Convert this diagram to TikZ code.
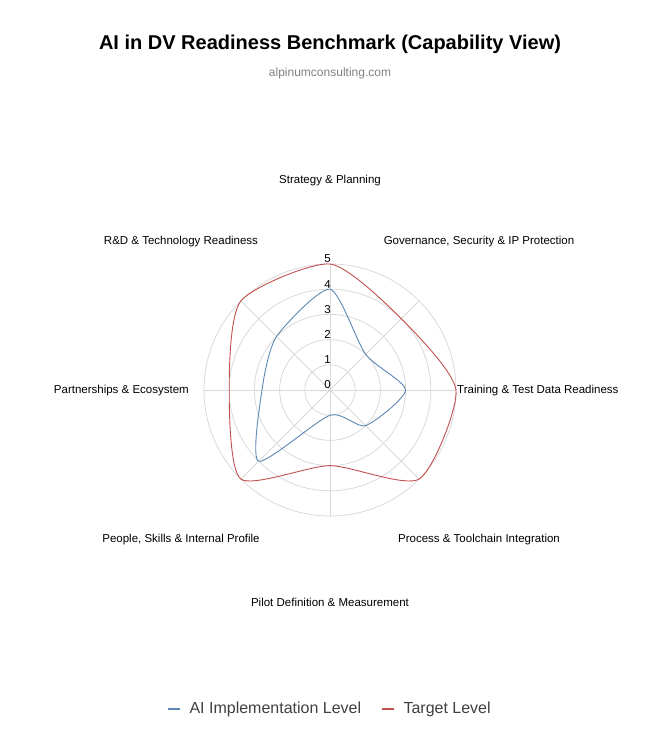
\documentclass[tikz,border=0pt]{standalone}
\usepackage{fontspec}
\setmainfont{Liberation Sans}
\definecolor{ablue}{HTML}{5B87B5}
\definecolor{ared}{HTML}{C0504D}
\definecolor{grid}{HTML}{D9D9D9}
\begin{document}
\begin{tikzpicture}[x=1pt,y=-1pt,
  lab/.style={font=\fontsize{11.5}{13}\selectfont,inner sep=1pt},
  tick/.style={font=\fontsize{11.5}{13}\selectfont,inner sep=1pt,anchor=south east}]
\useasboundingbox (0,0) rectangle (659,752);
\def\u{25.2}
\coordinate (c) at (330,390);
% grid
\foreach \k in {1,...,5}{\draw[grid,line width=0.8pt] (c) circle[radius=\k*\u];}
\foreach \a in {0,45,...,315}{\draw[grid,line width=0.8pt] (c) -- ++(\a:5*\u);}
\foreach \k in {0,...,5}{\node[tick] (t\k) at (332,{390-\k*\u}) {\k};}
% series
\draw[ablue,line width=0.9pt] plot[smooth cycle,tension=0.4] coordinates{
 (330,{390-4*\u}) ({330+2*\u*0.7071},{390-2*\u*0.7071}) ({330+3*\u},390)
 ({330+2*\u*0.7071},{390+2*\u*0.7071}) (330,{390+1*\u})
 ({330-4*\u*0.7071},{390+4*\u*0.7071}) ({330-2.7*\u},390) ({330-3*\u*0.7071},{390-3*\u*0.7071})};
\draw[ared,line width=0.9pt] plot[smooth cycle,tension=0.4] coordinates{
 (330,{390-5*\u}) ({330+4*\u*0.7071},{390-4*\u*0.7071}) ({330+5*\u},390)
 ({330+5*\u*0.7071},{390+5*\u*0.7071}) (330,{390+3*\u})
 ({330-5*\u*0.7071},{390+5*\u*0.7071}) ({330-4*\u},390) ({330-5*\u*0.7071},{390-5*\u*0.7071})};
% labels
\node[lab] (l1) at (330,181) {Strategy \& Planning};
\node[lab] (l2) at (479,242) {Governance, Security \& IP Protection};
\node[lab,anchor=west] (l3) at (456,391) {Training \& Test Data Readiness};
\node[lab] (l4) at (479,540) {Process \& Toolchain Integration};
\node[lab] (l5) at (330,602) {Pilot Definition \& Measurement};
\node[lab] (l6) at (181,540) {People, Skills \& Internal Profile};
\node[lab,anchor=east] (l7) at (190,391) {Partnerships \& Ecosystem};
\node[lab] (l8) at (181,242) {R\&D \& Technology Readiness};
% title
\node[font=\bfseries\fontsize{20}{24}\selectfont] (title) at (330,44) {AI in DV Readiness Benchmark (Capability View)};
\node[font=\fontsize{12}{14}\selectfont,text=gray] (sub) at (330,73) {alpinumconsulting.com};
% legend
\node[font=\fontsize{16}{18}\selectfont,anchor=west,text=black!75] (lg1) at (186,709) {AI Implementation Level};
\node[font=\fontsize{16}{18}\selectfont,anchor=west,text=black!75] (lg2) at (400,709) {Target Level};
\draw[ablue,line width=2.5pt] ([xshift=-18]lg1.west) -- ([xshift=-6]lg1.west);
\draw[ared,line width=2.5pt] ([xshift=-18]lg2.west) -- ([xshift=-6]lg2.west);
\end{tikzpicture}
\end{document}
